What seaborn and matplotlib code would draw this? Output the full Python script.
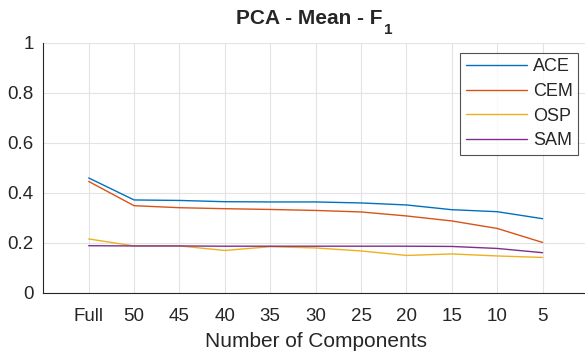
import matplotlib
matplotlib.use("Agg")
import matplotlib.pyplot as plt
import seaborn as sns
import pandas as pd

components = ["Full", "50", "45", "40", "35", "30", "25", "20", "15", "10", "5"]
ace = [0.459, 0.371, 0.369, 0.364, 0.363, 0.363, 0.359, 0.351, 0.332, 0.324, 0.296]
cem = [0.445, 0.348, 0.340, 0.336, 0.333, 0.329, 0.323, 0.307, 0.287, 0.257, 0.201]
osp = [0.215, 0.187, 0.187, 0.169, 0.184, 0.179, 0.167, 0.149, 0.155, 0.147, 0.141]
sam = [0.188, 0.187, 0.187, 0.186, 0.186, 0.186, 0.186, 0.186, 0.185, 0.177, 0.160]
methods = ["ACE", "CEM", "OSP", "SAM"]
colors = ["#0072BD", "#D95319", "#EDB120", "#7E2F8E"]

sns.set_style("white")
plt.rcParams["font.family"] = ["Liberation Sans", "DejaVu Sans"]

rows = []
for name, vals in zip(methods, [ace, cem, osp, sam]):
    for i, v in enumerate(vals):
        rows.append({"pos": i + 1, "F1": v, "Method": name})
df = pd.DataFrame(rows)

W, H = 585, 358
fig = plt.figure(figsize=(W / 100, H / 100), dpi=100)
ax = fig.add_axes([43.3 / W, (H - 292.7) / H, (588 - 43.3) / W, 250 / H])

sns.lineplot(data=df, x="pos", y="F1", hue="Method", palette=colors,
             hue_order=methods, linewidth=1.0, ax=ax)

ax.set_xlim(0, 12)
ax.set_ylim(0, 1)
ax.set_xticks(range(1, len(components) + 1))
ax.set_xticklabels(components)
ax.set_yticks([0, 0.2, 0.4, 0.6, 0.8, 1])
ax.set_yticklabels(["0", "0.2", "0.4", "0.6", "0.8", "1"])
ax.grid(True, color="#e3e3e3", linewidth=0.8)
ax.set_axisbelow(True)
for s in ["top", "right"]:
    ax.spines[s].set_visible(False)
for s in ["left", "bottom"]:
    ax.spines[s].set_color("#262626")
    ax.spines[s].set_linewidth(0.8)
ax.tick_params(direction="in", length=4, width=0.8, color="#262626",
               labelsize=13.5, labelcolor="#262626")
ax.tick_params(axis="x", pad=11)
ax.tick_params(axis="y", pad=7)
ax.set_xlabel("Number of Components", fontsize=15, color="#262626", labelpad=5)
ax.set_ylabel("")

# Title with a lowered subscript placed right after the main text
title = fig.text(309 / W, 1 - 23.5 / H, "PCA - Mean - F", fontsize=15,
                 fontweight="bold", ha="center", va="baseline")
fig.canvas.draw()
bb = title.get_window_extent()
fig.text((bb.x1 + 2) / W, 1 - 33.5 / H, "1", fontsize=11,
         fontweight="bold", ha="left", va="baseline")

leg = ax.legend(loc="upper right",
                bbox_to_anchor=((578 - 43.3) / (588 - 43.3), (292.7 - 53) / 250),
                fontsize=13, frameon=True, fancybox=False, edgecolor="#262626",
                handlelength=3.4, borderpad=0.3, labelspacing=0.42,
                handletextpad=0.3, borderaxespad=0)
leg.get_frame().set_linewidth(0.8)
leg.set_title(None)

fig.savefig("out.png", dpi=100)
